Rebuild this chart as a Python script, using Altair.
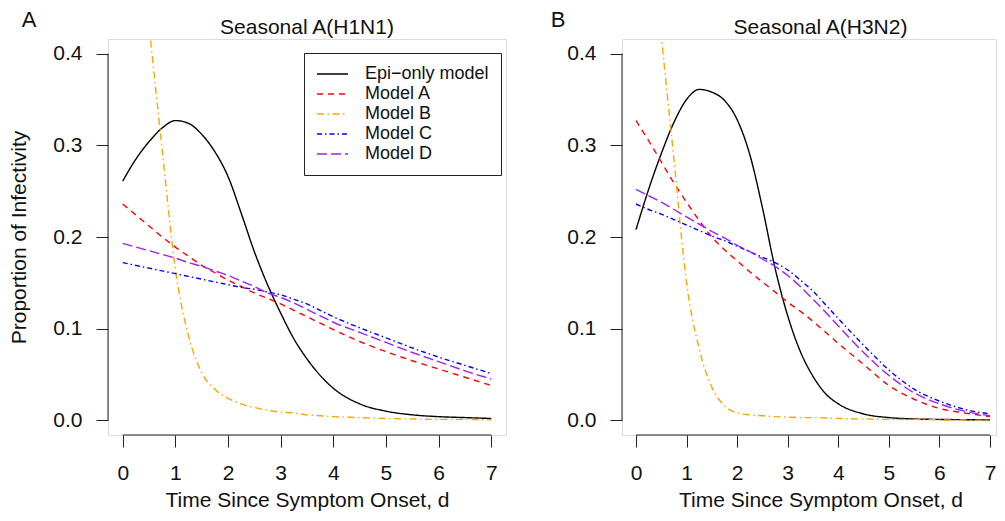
import altair as alt
import pandas as pd

# ---------------- data ----------------
T = [0, 0.25, 0.5, 0.75, 1, 1.25, 1.5, 1.75, 2, 2.25, 2.5, 2.75, 3, 3.25, 3.5,
     3.75, 4, 4.5, 5, 5.5, 6, 6.5, 7]

SERIES = ["Epi\u2212only model", "Model A", "Model B", "Model C", "Model D"]
COLORS = ["#000000", "#FF0000", "#FFA500", "#0000FF", "#A020F0"]
DASHES = [[1, 0], [6, 5], [7, 3.5, 1.5, 3.5], [5, 3, 1.5, 3], [10, 4]]

# Panel A: Seasonal A(H1N1)
A_EPI = [0.261, 0.285, 0.304, 0.319, 0.327, 0.324, 0.312, 0.293, 0.266, 0.226, 0.184,
         0.148, 0.117, 0.089, 0.067, 0.049, 0.035, 0.018, 0.010, 0.006, 0.004, 0.003, 0.002]
A_MA = [0.236, 0.224, 0.212, 0.200, 0.189, 0.179, 0.169, 0.161, 0.153, 0.146, 0.139,
        0.133, 0.127, 0.120, 0.113, 0.106, 0.099, 0.086, 0.075, 0.065, 0.056, 0.047, 0.038]
A_MB = [0.70, 0.565, 0.43, 0.295, 0.165, 0.092, 0.052, 0.034, 0.024, 0.018, 0.014,
        0.011, 0.009, 0.008, 0.006, 0.005, 0.004, 0.003, 0.002, 0.0015, 0.001, 0.001, 0.0005]
A_MC = [0.172, 0.169, 0.166, 0.163, 0.160, 0.157, 0.154, 0.151, 0.148, 0.145, 0.143,
        0.140, 0.137, 0.132, 0.127, 0.120, 0.113, 0.101, 0.090, 0.079, 0.069, 0.060, 0.051]
A_MD = [0.193, 0.189, 0.185, 0.181, 0.177, 0.172, 0.168, 0.163, 0.158, 0.152, 0.146,
        0.139, 0.134, 0.128, 0.121, 0.114, 0.107, 0.096, 0.085, 0.074, 0.064, 0.054, 0.045]

# Panel B: Seasonal A(H3N2)
B_EPI = [0.208, 0.252, 0.291, 0.325, 0.350, 0.361, 0.358, 0.349, 0.328, 0.290, 0.232,
         0.166, 0.114, 0.075, 0.048, 0.029, 0.018, 0.007, 0.003, 0.0015, 0.001, 0.0007, 0.0005]
B_MA = [0.327, 0.305, 0.282, 0.259, 0.238, 0.218, 0.200, 0.186, 0.174, 0.162, 0.151,
        0.140, 0.129, 0.119, 0.108, 0.096, 0.084, 0.061, 0.038, 0.023, 0.013, 0.008, 0.004]
B_MB = [0.71, 0.565, 0.42, 0.285, 0.150, 0.078, 0.036, 0.016, 0.008, 0.006, 0.005,
        0.004, 0.0035, 0.003, 0.003, 0.0025, 0.002, 0.0015, 0.001, 0.001, 0.0005, 0.0003, 0.0002]
B_MC = [0.236, 0.230, 0.225, 0.219, 0.213, 0.207, 0.201, 0.196, 0.190, 0.184, 0.178,
        0.172, 0.164, 0.153, 0.141, 0.126, 0.111, 0.082, 0.055, 0.034, 0.021, 0.012, 0.007]
B_MD = [0.252, 0.245, 0.238, 0.230, 0.222, 0.214, 0.206, 0.199, 0.191, 0.184, 0.176,
        0.168, 0.158, 0.146, 0.132, 0.118, 0.103, 0.074, 0.049, 0.030, 0.018, 0.010, 0.005]

X_TICKS = [0, 1, 2, 3, 4, 5, 6, 7]
Y_TICKS = [0.0, 0.1, 0.2, 0.3, 0.4]
TITLES = ["Seasonal A(H1N1)", "Seasonal A(H3N2)"]
LETTERS = ["A", "B"]
X_TITLE = "Time Since Symptom Onset, d"
Y_TITLE = "Proportion of Infectivity"

FONT = "Liberation Sans"
H = 396
WA = 398
WB = 374
XA_DOM = [-0.28, 7.28]
XB_DOM = [-0.2768, 7.1186]
Y_DOM = [-0.016, 0.416]
B_CENTER = 198.5


def long_df(arrays):
    rows = []
    for name, vals in zip(SERIES, arrays):
        for t, v in zip(T, vals):
            rows.append({"series": name, "t": t, "v": v})
    return pd.DataFrame(rows)


def panel(df, title, letter, W, x_dom, first):
    xsc = alt.Scale(domain=x_dom, nice=False, zero=False)
    ysc = alt.Scale(domain=Y_DOM, nice=False, zero=False)
    center = W / 2 if first else B_CENTER
    if first:
        leg = alt.Legend(
            title=None, orient="none", legendX=196, legendY=14,
            symbolType="stroke", symbolSize=961, symbolStrokeWidth=1.5,
            labelFont=FONT, labelFontSize=18, labelColor="#111",
            labelOffset=16, padding=12, rowPadding=2, clipHeight=18,
            strokeColor="#222", fillColor="white", labelLimit=0,
        )
    else:
        leg = None
    xaxis = alt.Axis(
        values=X_TICKS, domain=False, grid=False, tickSize=12, tickColor="#222",
        tickWidth=1, labelFont=FONT, labelFontSize=21, labelColor="#111",
        labelPadding=15, labelFlush=False, title=X_TITLE, titleFont=FONT,
        titleFontSize=21, titleFontWeight="normal", titleColor="#111",
        titleX=center, titleY=71, titleBaseline="alphabetic", titleAlign="center",
    )
    yaxis = alt.Axis(
        values=Y_TICKS, format=".1f", domain=False, grid=False, tickSize=12,
        tickColor="#222", tickWidth=1, labelFont=FONT, labelFontSize=21,
        labelColor="#111", labelPadding=14, labelFlush=False,
        title=Y_TITLE if first else None, titleFont=FONT, titleFontSize=21,
        titleFontWeight="normal", titleColor="#111", titleX=-82.5, titleY=H / 2,
        titleAngle=270, titleBaseline="alphabetic", titleAlign="center",
    )
    lines = alt.Chart(df).mark_line(clip=True, interpolate="monotone", strokeWidth=1.4).encode(
        x=alt.X("t:Q", scale=xsc, axis=xaxis),
        y=alt.Y("v:Q", scale=ysc, axis=yaxis),
        color=alt.Color("series:N", scale=alt.Scale(domain=SERIES, range=COLORS),
                        sort=SERIES, legend=leg),
        strokeDash=alt.StrokeDash("series:N", scale=alt.Scale(domain=SERIES, range=DASHES),
                                  sort=SERIES, legend=leg),
    )
    xline = alt.Chart(pd.DataFrame({"a": [X_TICKS[0]], "b": [X_TICKS[-1]]})).mark_rule(
        color="#222", strokeWidth=1).encode(
        x=alt.X("a:Q", scale=xsc), x2="b:Q", y=alt.datum(Y_DOM[0]))
    yline = alt.Chart(pd.DataFrame({"a": [Y_TICKS[0]], "b": [Y_TICKS[-1]]})).mark_rule(
        color="#222", strokeWidth=1).encode(
        y=alt.Y("a:Q", scale=ysc), y2="b:Q", x=alt.datum(x_dom[0]))
    ttl = alt.Chart(pd.DataFrame({"s": [title]})).mark_text(
        font=FONT, fontSize=21, color="#111", align="center", baseline="alphabetic").encode(
        text="s:N", x=alt.value(center), y=alt.value(-5))
    let = alt.Chart(pd.DataFrame({"s": [letter]})).mark_text(
        font=FONT, fontSize=22, color="#111", align="center", baseline="alphabetic").encode(
        text="s:N", x=alt.value(-79 if first else -64), y=alt.value(-12))
    return alt.layer(lines, xline, yline, ttl, let).properties(width=W, height=H)


dfA = long_df([A_EPI, A_MA, A_MB, A_MC, A_MD])
dfB = long_df([B_EPI, B_MA, B_MB, B_MC, B_MD])

chart = alt.hconcat(
    panel(dfA, TITLES[0], LETTERS[0], WA, XA_DOM, True),
    panel(dfB, TITLES[1], LETTERS[1], WB, XB_DOM, False),
    spacing=43,
).resolve_scale(color="independent", strokeDash="independent").properties(
    padding={"left": 0, "top": 0, "right": 0, "bottom": 0}
).configure_view(stroke=None).configure(font=FONT, background="white")

chart.save("out.html", embed_options={"renderer": "svg", "actions": False})
